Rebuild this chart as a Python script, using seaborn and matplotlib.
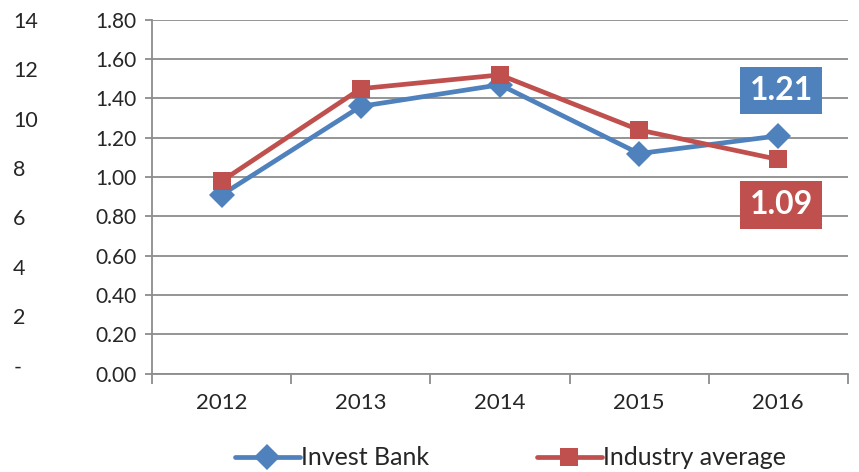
import pandas as pd
import numpy as np

import matplotlib
matplotlib.use("Agg")
import matplotlib.pyplot as plt
import seaborn as sns

years = ["2012", "2013", "2014", "2015", "2016"]
invest_bank = [0.91, 1.36, 1.47, 1.12, 1.21]
industry_avg = [0.98, 1.45, 1.52, 1.24, 1.09]
left_ticks = [0, 2, 4, 6, 8, 10, 12, 14]
left_labels = ["-", "2", "4", "6", "8", "10", "12", "14"]

BLUE = "#4F81BD"
RED = "#C0504D"

sns.set_style("white")
plt.rcParams["font.family"] = ["Lato", "DejaVu Sans"]

df = pd.DataFrame({
    "pos": list(range(len(years))) * 2,
    "value": invest_bank + industry_avg,
    "series": ["Invest Bank"] * len(years) + ["Industry average"] * len(years),
})

fig = plt.figure(figsize=(8.59, 4.72), dpi=100)
ax = fig.add_axes([0.177, 0.208, 0.81, 0.75])

# --------------------------------
# LINES
# --------------------------------
sns.lineplot(
    data=df,
    x="pos",
    y="value",
    hue="series",
    style="series",
    markers={"Invest Bank": "D", "Industry average": "s"},
    dashes=False,
    palette={"Invest Bank": BLUE, "Industry average": RED},
    linewidth=3.4,
    markersize=13,
    markeredgewidth=0,
    ax=ax,
    legend=False,
)

ax.set_xlim(-0.5, len(years) - 0.5)
ax.set_ylim(0, 1.8)
ax.set_yticks(np.arange(0, 1.81, 0.2))
ax.set_yticklabels([f"{v:.2f}" for v in np.arange(0, 1.81, 0.2)])
ax.set_xticks(range(len(years)))
ax.set_xticklabels(years)
ax.set_xticks(np.arange(-0.5, len(years)), minor=True)
ax.set_xlabel("")
ax.set_ylabel("")

ax.grid(axis="y", color="#8c8c8c", linewidth=1.3)
ax.set_axisbelow(True)
for s in ["top", "right"]:
    ax.spines[s].set_visible(False)
for s in ["left", "bottom"]:
    ax.spines[s].set_color("#8c8c8c")
    ax.spines[s].set_linewidth(1.3)

ax.tick_params(axis="y", length=5, width=1.3, color="#8c8c8c",
               labelsize=15, pad=6, left=True)
ax.tick_params(axis="x", which="major", length=0, labelsize=16, pad=14)
ax.tick_params(axis="x", which="minor", length=7, width=1.3,
               color="#8c8c8c", bottom=True)

# --------------------------------
# SECONDARY LEFT AXIS
# --------------------------------
ax2 = ax.twinx()
ax2.set_ylim(-0.34, 13.92)
ax2.yaxis.set_ticks_position("left")
ax2.set_yticks(left_ticks)
ax2.set_yticklabels(left_labels)
ax2.tick_params(axis="y", length=0, labelsize=15.5, pad=100)
for lab in ax2.get_yticklabels():
    lab.set_horizontalalignment("left")
for s in ax2.spines.values():
    s.set_visible(False)

# --------------------------------
# DATA LABELS
# --------------------------------
ax.text(4.02, invest_bank[-1] + 0.23, f"{invest_bank[-1]:.2f}",
        ha="center", va="center", color="white", fontsize=23,
        fontweight="bold",
        bbox=dict(boxstyle="square,pad=0.28", fc=BLUE, ec="none"))
ax.text(4.02, industry_avg[-1] - 0.23, f"{industry_avg[-1]:.2f}",
        ha="center", va="center", color="white", fontsize=23,
        fontweight="bold",
        bbox=dict(boxstyle="square,pad=0.3", fc=RED, ec="none"))

# --------------------------------
# LEGEND
# --------------------------------
handles = [
    plt.Line2D([], [], color=BLUE, marker="D", linewidth=3.4,
               markersize=13, markeredgewidth=0),
    plt.Line2D([], [], color=RED, marker="s", linewidth=3.4,
               markersize=13, markeredgewidth=0),
]
fig.legend(handles, ["Invest Bank", "Industry average"],
           loc="center", bbox_to_anchor=(0.594, 0.03), ncol=2,
           frameon=False, fontsize=18, handlelength=2.6,
           handletextpad=0.05, columnspacing=4.3)

fig.savefig("out.png", dpi=100)
